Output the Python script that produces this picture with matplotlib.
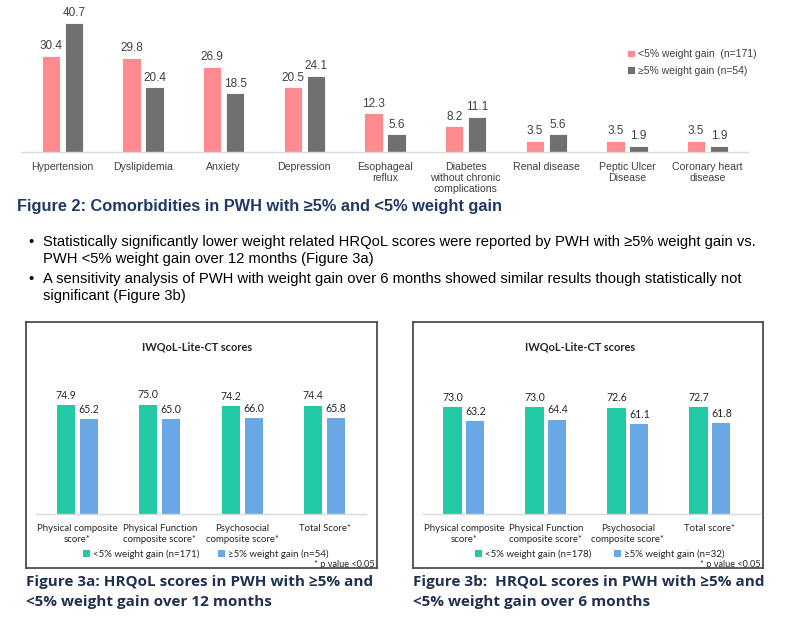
import matplotlib
matplotlib.use("Agg")
import matplotlib.pyplot as plt
import numpy as np

W, H = 803, 639

# ---------------- data ----------------
comorb_categories = ["Hypertension", "Dyslipidemia", "Anxiety", "Depression",
                     "Esophageal\nreflux", "Diabetes\nwithout chronic\ncomplications",
                     "Renal disease", "Peptic Ulcer\nDisease", "Coronary heart\ndisease"]
comorb_lt5 = [30.4, 29.8, 26.9, 20.5, 12.3, 8.2, 3.5, 3.5, 3.5]
comorb_ge5 = [40.7, 20.4, 18.5, 24.1, 5.6, 11.1, 5.6, 1.9, 1.9]
comorb_series = ["<5% weight gain  (n=171)", "\u22655% weight gain (n=54)"]

qol_categories_a = ["Physical composite\nscore*", "Physical Function\ncomposite score*",
                    "Psychosocial\ncomposite score*", "Total Score*"]
qol_lt5_a = [74.9, 75.0, 74.2, 74.4]
qol_ge5_a = [65.2, 65.0, 66.0, 65.8]
qol_series_a = ["<5% weight gain (n=171)", "\u22655% weight gain (n=54)"]

qol_categories_b = ["Physical composite\nscore*", "Physical Function\ncomposite score*",
                    "Psychosocial\ncomposite score*", "Total score*"]
qol_lt5_b = [73.0, 73.0, 72.6, 72.7]
qol_ge5_b = [63.2, 64.4, 61.1, 61.8]
qol_series_b = ["<5% weight gain (n=178)", "\u22655% weight gain (n=32)"]

fig2_title = "Figure 2: Comorbidities in PWH with \u22655% and <5% weight gain"
bullets = [
    ["Statistically significantly lower weight related HRQoL scores were reported by PWH with \u22655% weight gain vs.",
     "PWH <5% weight gain over 12 months (Figure 3a)"],
    ["A sensitivity analysis of PWH with weight gain over 6 months showed similar results though statistically not",
     "significant (Figure 3b)"],
]
cap_a = ["Figure 3a: HRQoL scores in PWH with \u22655% and", "<5% weight gain over 12 months"]
cap_b = ["Figure 3b:  HRQoL scores in PWH with \u22655% and", "<5% weight gain over 6 months"]
panel_title = "IWQoL-Lite-CT scores"
pnote = "* p value <0.05"

# ---------------- styles ----------------
PINK = "#FF8A90"
GREY = "#707070"
GREEN = "#22C9A5"
BLUE = "#6AA8E5"
NAVY = "#1F3050"
ARIAL = ["Liberation Sans", "DejaVu Sans"]
CALIBRI = ["Lato", "DejaVu Sans"]

fig = plt.figure(figsize=(W / 100, H / 100), dpi=100)
fig.patch.set_facecolor("white")


def fx(x):
    return x / W


def fy(y):
    return 1 - y / H


def add_ax(x0, y0, x1, y1):
    return fig.add_axes([fx(x0), fy(y1), fx(x1) - fx(x0), fy(y0) - fy(y1)])


# ---------------- Figure 2 chart ----------------
ax = add_ax(22, 0, 748, 152)
x = np.arange(len(comorb_categories))
bw = 0.225
off = 0.143
b1 = ax.bar(x - off, comorb_lt5, bw, color=PINK, edgecolor="white", linewidth=0.6,
            label=comorb_series[0])
b2 = ax.bar(x + off, comorb_ge5, bw, color=GREY, edgecolor="white", linewidth=0.6,
            label=comorb_series[1])
for bars, vals in ((b1, comorb_lt5), (b2, comorb_ge5)):
    for r, v in zip(bars, vals):
        ax.text(r.get_x() + r.get_width() / 2, v + 1.1, f"{v:.1f}", ha="center", va="bottom",
                fontsize=8.5, color="#404040", family=ARIAL)
ax.set_xlim(-0.5, len(comorb_categories) - 0.5)
ax.set_ylim(0, 152 / 3.17)
ax.set_yticks([])
ax.set_xticks(x)
ax.set_xticklabels(comorb_categories, fontsize=7.6, color="#404040", family=ARIAL,
                   linespacing=1.15)
ax.tick_params(axis="x", length=0, pad=7)
for s in ("top", "right", "left"):
    ax.spines[s].set_visible(False)
ax.spines["bottom"].set_color("#D9D9D9")
ax.spines["bottom"].set_linewidth(1.0)
ax.patch.set_alpha(0)
leg = ax.legend(loc="upper left", bbox_to_anchor=(fx(618), fy(40)),
                bbox_transform=fig.transFigure, frameon=False, handlelength=0.7,
                handleheight=0.7, handletextpad=0.3, labelspacing=0.6,
                prop={"family": ARIAL, "size": 7.5})
for t in leg.get_texts():
    t.set_color("#404040")

fig.text(fx(17), fy(207), fig2_title, fontsize=11.8, fontweight="bold", color="#1F3864",
         family=ARIAL, va="center", ha="left")

bullet_y = [242, 279]
for (l1, l2), by in zip(bullets, bullet_y):
    fig.text(fx(31), fy(by), "\u2022", fontsize=10.6, family=ARIAL, va="center", ha="center")
    fig.text(fx(43), fy(by), l1, fontsize=10.65, family=ARIAL, va="center", ha="left")
    fig.text(fx(43), fy(by + 17), l2, fontsize=10.65, family=ARIAL, va="center", ha="left")


# ---------------- Figure 3 panels ----------------
def qol_panel(box, ax_box, scale, cats, lt5, ge5, series, legend_x, colsp, title_cx, note_x,
              cap, cap_x):
    bx0, by0, bx1, by1 = box
    frame = fig.add_axes([fx(bx0), fy(by1), fx(bx1) - fx(bx0), fy(by0) - fy(by1)])
    frame.set_xticks([])
    frame.set_yticks([])
    frame.patch.set_alpha(0)
    for s in frame.spines.values():
        s.set_color("#4D4D4D")
        s.set_linewidth(1.3)
    frame.set_zorder(5)

    ax0, ay0, ax1, ay1, xmax = ax_box
    a = add_ax(ax0, ay0, ax1, ay1)
    xx = np.arange(len(cats))
    bw = 0.22
    off = 0.14
    r1 = a.bar(xx - off, lt5, bw, color=GREEN, label=series[0])
    r2 = a.bar(xx + off, ge5, bw, color=BLUE, label=series[1])
    for bars, vals in ((r1, lt5), (r2, ge5)):
        for r, v in zip(bars, vals):
            a.text(r.get_x() + r.get_width() / 2, v + 3.0, f"{v:.1f}", ha="center",
                   va="bottom", fontsize=7.6, color="#262626", family=CALIBRI)
    a.set_xlim(-0.5, xmax)
    a.set_ylim(0, (ay1 - ay0) / scale)
    a.set_yticks([])
    a.set_xticks(xx)
    a.set_xticklabels(cats, fontsize=6.9, color="#262626", family=CALIBRI, linespacing=1.3)
    a.tick_params(axis="x", length=0, pad=7)
    for s in ("top", "right", "left"):
        a.spines[s].set_visible(False)
    a.spines["bottom"].set_color("#D9D9D9")
    a.spines["bottom"].set_linewidth(1.0)
    a.patch.set_alpha(0)
    lg = a.legend(loc="center left", bbox_to_anchor=(fx(legend_x), fy(554)),
                  bbox_transform=fig.transFigure, ncol=2, frameon=False,
                  handlelength=0.75, handleheight=0.75, handletextpad=0.3,
                  columnspacing=colsp, prop={"family": CALIBRI, "size": 7.0})
    for t in lg.get_texts():
        t.set_color("#262626")
    fig.text(fx(title_cx), fy(347), panel_title, fontsize=7.9, fontweight="bold",
             color="#262626", family=CALIBRI, ha="center", va="center")
    fig.text(fx(note_x), fy(564.5), pnote, fontsize=6.6, color="#262626", family=CALIBRI,
             ha="right", va="center")
    fig.text(fx(cap_x), fy(582), cap[0], fontsize=11.0, fontweight="bold", color=NAVY,
             family=["Open Sans", "DejaVu Sans"], ha="left", va="center")
    fig.text(fx(cap_x), fy(602), cap[1], fontsize=11.0, fontweight="bold", color=NAVY,
             family=["Open Sans", "DejaVu Sans"], ha="left", va="center")


qol_panel((26, 322, 377, 568), (36, 370, 366, 514, 3.5), 1.456,
          qol_categories_a, qol_lt5_a, qol_ge5_a, qol_series_a, 74, 1.9, 197, 375, cap_a, 26)
qol_panel((413, 322, 763, 568), (423, 370, 760, 514, 3.61), 1.466,
          qol_categories_b, qol_lt5_b, qol_ge5_b, qol_series_b, 466, 2.3, 580, 761, cap_b, 413)

fig.savefig("out.png", dpi=100, facecolor="white")
